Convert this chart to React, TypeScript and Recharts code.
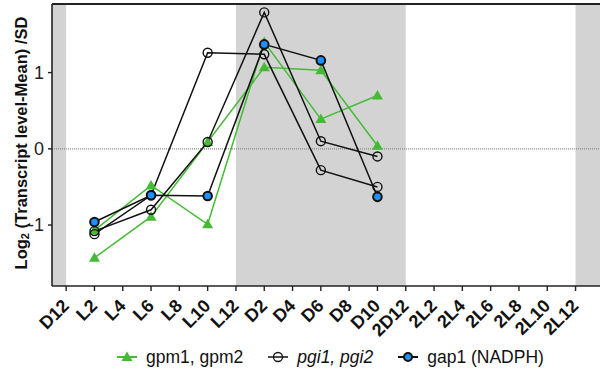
import React from 'react';
import {
  LineChart,
  Line,
  XAxis,
  YAxis,
  ReferenceArea,
  ReferenceLine,
} from 'recharts';

const tickLabels = [
  'D12', 'L2', 'L4', 'L6', 'L8', 'L10', 'L12', 'D2', 'D4', 'D6', 'D8', 'D10',
  '2D12', '2L2', '2L4', '2L6', '2L8', '2L10', '2L12',
];
const sampleTimes = ['L2', 'L6', 'L10', 'D2', 'D6', 'D10'];
const gpm1 = [-1.43, -0.89, 0.09, 1.07, 1.03, 0.04];
const gpm2 = [-1.07, -0.48, -0.99, 1.4, 0.39, 0.7];
const pgi1 = [-1.12, -0.61, 1.26, 1.24, -0.28, -0.5];
const pgi2 = [-1.08, -0.8, 0.09, 1.79, 0.1, -0.1];
const gap1 = [-0.96, -0.61, -0.62, 1.37, 1.16, -0.63];
const yTicks = [-1, 0, 1];
// dark periods, by tick label ('' = edge of the axis)
const darkPeriods: [string, string][] = [['', 'D12'], ['L12', '2D12'], ['2L12', '']];

const X_MIN = -0.5;
const X_MAX = 19.5;
const Y_MIN = -1.8;
const Y_MAX = 1.9;

const GREEN = '#45bb35';
const BLUE = '#1e90ff';
const FONT = '"Liberation Sans", Arial, sans-serif';

const data = sampleTimes.map((t, i) => ({
  x: tickLabels.indexOf(t),
  gpm1: gpm1[i],
  gpm2: gpm2[i],
  pgi1: pgi1[i],
  pgi2: pgi2[i],
  gap1: gap1[i],
}));

const bandX = (label: string, edge: number) => (label ? tickLabels.indexOf(label) : edge);

const Triangle = (props: any) => {
  const { cx, cy } = props;
  if (cx == null || cy == null) return null;
  return <path d={`M${cx},${cy - 5.5} L${cx + 5.5},${cy + 4} L${cx - 5.5},${cy + 4} Z`} fill={GREEN} />;
};

const OpenCircle = (props: any) => {
  const { cx, cy } = props;
  if (cx == null || cy == null) return null;
  return <circle cx={cx} cy={cy} r={4.5} fill="none" stroke="#111" strokeWidth={1.4} />;
};

const BlueCircle = (props: any) => {
  const { cx, cy } = props;
  if (cx == null || cy == null) return null;
  return <circle cx={cx} cy={cy} r={4.3} fill={BLUE} stroke="#111" strokeWidth={2} />;
};

const XTick = (props: any) => {
  const { x, y, payload } = props;
  const ax = x + 4;
  const ay = y + 14;
  return (
    <text
      x={ax}
      y={ay}
      textAnchor="end"
      transform={`rotate(-45, ${ax}, ${ay})`}
      fontFamily={FONT}
      fontWeight="bold"
      fontSize={18}
      fill="#111"
    >
      {tickLabels[payload.value]}
    </text>
  );
};

const YTitle = () => {
  const cx = 21;
  const cy = 143;
  return (
    <text
      x={cx}
      y={cy}
      transform={`rotate(-90, ${cx}, ${cy})`}
      textAnchor="middle"
      dominantBaseline="central"
      fontFamily={FONT}
      fontWeight="bold"
      fontSize={16.5}
      fill="#111"
    >
      Log<tspan fontSize={11} dy={4}>2</tspan>
      <tspan dy={-4}> (Transcript level-Mean) /SD</tspan>
    </text>
  );
};

const LegendItem: React.FC<{ icon: React.ReactNode; label: string; italic?: boolean }> = ({ icon, label, italic }) => (
  <div style={{ display: 'flex', alignItems: 'center', gap: 8 }}>
    <svg width={22} height={14}>{icon}</svg>
    <span style={{ fontStyle: italic ? 'italic' : 'normal' }}>{label}</span>
  </div>
);

export default function App() {
  return (
    <div style={{ position: 'absolute', left: 0, top: 0, width: 600, height: 370, overflow: 'hidden', background: '#fff' }}>
      <LineChart width={640} height={370} data={data} margin={{ top: 4, right: 22, bottom: 0, left: 0 }}>
        {darkPeriods.map(([a, b], i) => (
          <ReferenceArea
            key={i}
            x1={bandX(a, X_MIN)}
            x2={bandX(b, X_MAX)}
            y1={Y_MIN}
            y2={Y_MAX}
            fill="#d3d3d3"
            fillOpacity={1}
            stroke="none"
            ifOverflow="hidden"
          />
        ))}
        <ReferenceLine y={0} stroke="#8a8a8a" strokeDasharray="1 1" strokeWidth={1.2} />
        <ReferenceLine y={Y_MAX} stroke="#222" strokeWidth={2} />
        <XAxis
          type="number"
          dataKey="x"
          domain={[X_MIN, X_MAX]}
          ticks={tickLabels.map((_, i) => i)}
          interval={0}
          height={84}
          tick={<XTick />}
          tickSize={5}
          tickMargin={2}
          axisLine={{ stroke: '#222', strokeWidth: 1.6 }}
          tickLine={{ stroke: '#222', strokeWidth: 1.4 }}
        />
        <YAxis
          type="number"
          domain={[Y_MIN, Y_MAX]}
          ticks={yTicks}
          width={52}
          tickSize={4}
          tickMargin={4}
          tick={{ fill: '#222', fontSize: 18, fontFamily: FONT }}
          axisLine={{ stroke: '#222', strokeWidth: 1.6 }}
          tickLine={{ stroke: '#222', strokeWidth: 1.4 }}
          label={{ content: <YTitle /> }}
        />
        <Line dataKey="gpm1" stroke={GREEN} strokeWidth={1.5} dot={<Triangle />} isAnimationActive={false} />
        <Line dataKey="gpm2" stroke={GREEN} strokeWidth={1.5} dot={<Triangle />} isAnimationActive={false} />
        <Line dataKey="pgi1" stroke="#111" strokeWidth={1.5} dot={<OpenCircle />} isAnimationActive={false} />
        <Line dataKey="pgi2" stroke="#111" strokeWidth={1.5} dot={<OpenCircle />} isAnimationActive={false} />
        <Line dataKey="gap1" stroke="#111" strokeWidth={1.5} dot={<BlueCircle />} isAnimationActive={false} />
      </LineChart>
      <div
        style={{
          position: 'absolute',
          top: 347,
          left: 116,
          display: 'flex',
          gap: 24,
          fontFamily: FONT,
          fontSize: 17.5,
          color: '#111',
          lineHeight: '20px',
        }}
      >
        <LegendItem
          label="gpm1, gpm2"
          icon={<g><line x1={1} y1={7} x2={21} y2={7} stroke={GREEN} strokeWidth={2} /><path d="M11,1.5 L16.5,11 L5.5,11 Z" fill={GREEN} /></g>}
        />
        <LegendItem
          label="pgi1, pgi2"
          italic
          icon={<g><line x1={1} y1={7} x2={21} y2={7} stroke="#111" strokeWidth={1.5} /><circle cx={11} cy={7} r={4.5} fill="none" stroke="#111" strokeWidth={1.3} /></g>}
        />
        <LegendItem
          label="gap1 (NADPH)"
          icon={<g><line x1={1} y1={7} x2={21} y2={7} stroke="#111" strokeWidth={2} /><circle cx={11} cy={7} r={4} fill={BLUE} stroke="#111" strokeWidth={2} /></g>}
        />
      </div>
    </div>
  );
}
